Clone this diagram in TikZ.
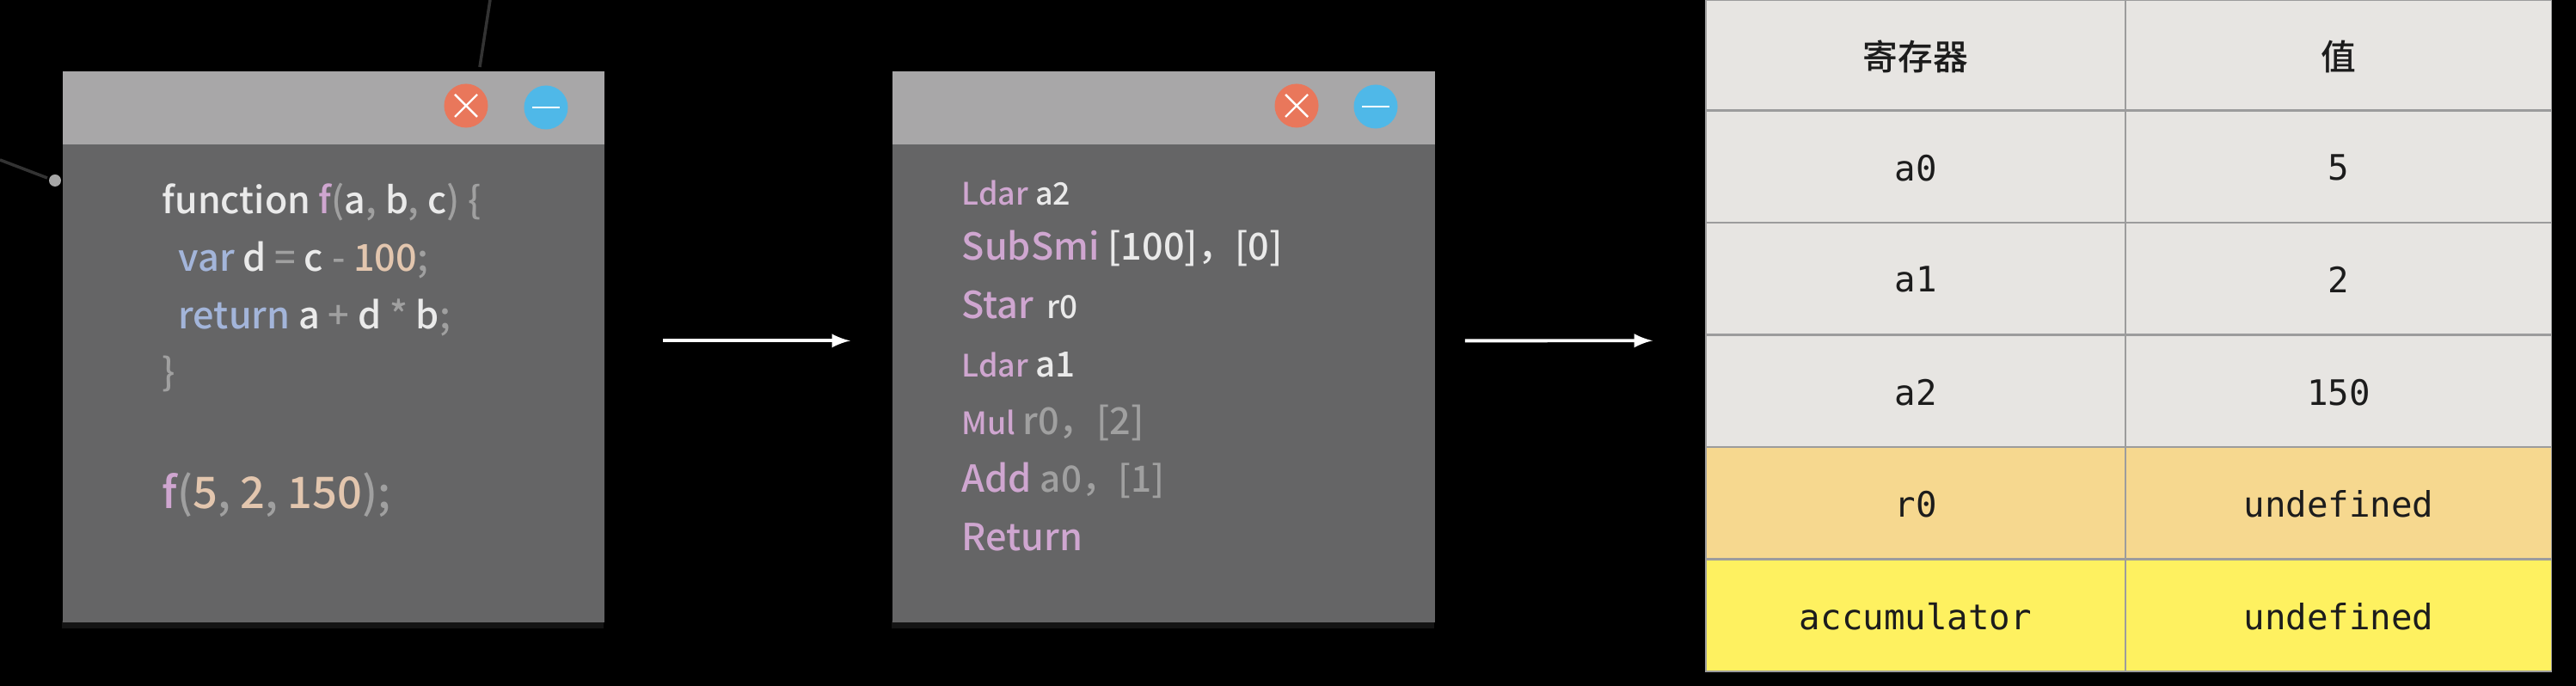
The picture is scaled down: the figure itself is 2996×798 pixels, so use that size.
\documentclass[tikz,border=0pt]{standalone}
\usepackage{fontspec}
\setmainfont{Noto Sans CJK SC}[UprightFont=* Medium]
\setmonofont{DejaVu Sans Mono}
\usepackage{tikz}
\definecolor{winbody}{HTML}{656566}
\definecolor{winbar}{HTML}{A8A7A8}
\definecolor{winshadow}{HTML}{141414}
\definecolor{btnred}{HTML}{E9775B}
\definecolor{btnblue}{HTML}{4FB8E8}
\definecolor{cwhite}{HTML}{EAEAEA}
\definecolor{cgrey}{HTML}{A0A0A0}
\definecolor{cpink}{HTML}{CFA6D0}
\definecolor{cblue}{HTML}{A3B5DA}
\definecolor{ctan}{HTML}{E3C6AE}
\definecolor{cellgrey}{HTML}{E7E5E2}
\definecolor{cellorange}{HTML}{F6D88F}
\definecolor{cellyellow}{HTML}{FEF160}
\definecolor{cellgrid}{HTML}{9C9C9C}
\definecolor{celltext}{HTML}{1C1C1C}
\definecolor{stray}{HTML}{333333}
\newcommand{\wh}[1]  {\textcolor{cwhite}{#1}}
\newcommand{\gr}[1]  {\textcolor{cgrey}{#1}}
\newcommand{\pk}[1]  {\textcolor{cpink}{#1}}
\newcommand{\bl}[1]  {\textcolor{cblue}{#1}}
\newcommand{\tn}[1]  {\textcolor{ctan}{#1}}
\newcommand{\sz}[1]  {\fontsize{#1}{#1}\selectfont}
\tikzset{
  winnode/.style={anchor=north west,inner sep=0,fill=winbody,minimum width=6.3cm,minimum height=6.41cm},
  barnode/.style={anchor=north west,inner sep=0,fill=winbar,minimum width=6.3cm,minimum height=0.85cm},
  btnnode/.style={circle,inner sep=0,minimum size=0.51cm},
  txt/.style={anchor=base west,inner sep=0},
  cell/.style={inner sep=0,draw=cellgrid,line width=0.4pt,text=celltext,font=\ttfamily\sz{11.6},
    minimum height=1.3cm,text depth=0pt},
  cola/.style={cell,minimum width=4.88cm},
  colb/.style={cell,minimum width=4.95cm},
  flow/.style={draw=white,line width=1.1pt,-latex}
}
\begin{document}
\begin{tikzpicture}[x=0.01cm,y=-0.01cm]
     \fill[black] (0,0) rectangle (2996,798);
     \useasboundingbox (0,0) rectangle (2996,798);
     % stray background lines
     \draw[stray,line width=1pt] (570,0) -- (558,78);
     \draw[stray,line width=1pt] (0,186) -- (55,207);
     \fill[gray!70] (64,210) circle (7);
     % left window
     \fill[winshadow] (72,722) rectangle (702,731);
     \node (winA) at (72,82) [winnode] {};
     \node (barA) at (72,82) [barnode] {};
     \node (closeA) at (542,123) [btnnode,fill=btnred] {};
     \node (minA) at (635,125) [btnnode,fill=btnblue] {};
     \draw[white,line width=0.7pt] (529,110) -- (555,136) (529,136) -- (555,110);
     \draw[white,line width=0.8pt] (619,125) -- (651,125);
     \node (srcA) at (188,249) [txt,font=\sz{12.2}] {\wh{function} \pk{f}\gr{(}\wh{a}\gr{,} \wh{b}\gr{,} \wh{c}\gr{)} \gr{\{}};
     \node (srcB) at (207,316) [txt,font=\sz{12.3}] {\bl{var} \wh{d} \gr{=} \wh{c} \gr{-} \tn{100}\gr{;}};
     \node (srcC) at (207,383) [txt,font=\sz{12.3}] {\bl{return} \wh{a} \gr{+} \wh{d} \gr{*} \wh{b}\gr{;}};
     \node (srcD) at (188,449) [txt,font=\sz{12.3}] {\gr{\}}};
     \node (srcE) at (188,592) [txt,font=\sz{14.4}] {\pk{f}\gr{(}\tn{5}\gr{,} \tn{2}\gr{,} \tn{150}\gr{);}};
     % middle window
     \fill[winshadow] (1037,722) rectangle (1668,731);
     \node (winB) at (1037,82) [winnode,minimum width=6.31cm] {};
     \node (barB) at (1037,82) [barnode,minimum width=6.31cm] {};
     \node (closeB) at (1508,123) [btnnode,fill=btnred] {};
     \node (minB) at (1600,124) [btnnode,fill=btnblue] {};
     \draw[white,line width=0.7pt] (1495,110) -- (1521,136) (1495,136) -- (1521,110);
     \draw[white,line width=0.8pt] (1584,124) -- (1616,124);
     \node (opA) at (1118,239) [txt,font=\sz{10.2}] {\pk{Ldar} \wh{a2}};
     \node (opB) at (1118,303) [txt,font=\sz{12.3}] {\pk{SubSmi} \wh{[100]，[0]}};
     \node (opC) at (1118,371) [txt,font=\sz{12.3}] {\pk{Star}\hspace{0.05cm} \wh{\sz{10.5}r0}};
     \node (opD) at (1118,439) [txt,font=\sz{10.2}] {\pk{Ldar} \wh{\sz{11.5}a1}};
     \node (opE) at (1118,506) [txt,font=\sz{10.2}] {\pk{Mul} \gr{\sz{12.3}r0，[2]}};
     \node (opF) at (1118,573) [txt,font=\sz{12.3}] {\pk{Add} \gr{\sz{12}a0，[1]}};
     \node (opG) at (1118,641) [txt,font=\sz{12.3}] {\pk{Return}};
     % register table
     \node (regH) at (2228,64) [cola,fill=cellgrey,minimum height=1.28cm] {\rmfamily 寄存器};
     \node (valH) at (2720,64) [colb,fill=cellgrey,minimum height=1.28cm] {\rmfamily 值};
     \node (regA) at (2228,194) [cola,fill=cellgrey] {\raisebox{-0.02cm}{a0}};
     \node (valA) at (2720,194) [colb,fill=cellgrey] {\raisebox{-0.02cm}{5}};
     \node (regB) at (2228,324) [cola,fill=cellgrey] {\raisebox{-0.02cm}{a1}};
     \node (valB) at (2720,324) [colb,fill=cellgrey] {\raisebox{-0.02cm}{2}};
     \node (regC) at (2228,455) [cola,fill=cellgrey] {\raisebox{-0.02cm}{a2}};
     \node (valC) at (2720,455) [colb,fill=cellgrey] {\raisebox{-0.02cm}{150}};
     \node (regD) at (2228,585) [cola,fill=cellorange] {\raisebox{-0.02cm}{r0}};
     \node (valD) at (2720,585) [colb,fill=cellorange] {\raisebox{-0.02cm}{undefined}};
     \node (regE) at (2228,716) [cola,fill=cellyellow] {\raisebox{-0.02cm}{accumulator}};
     \node (valE) at (2720,716) [colb,fill=cellyellow] {\raisebox{-0.02cm}{undefined}};
     % arrows between the stages
     \draw[flow,shorten <=0.67cm,shorten >=0.48cm] ([yshift=0.07cm]winA.east) -- ([yshift=0.07cm]winB.west);
     \draw[flow,shorten <=0.34cm,shorten >=0.61cm] ([yshift=0.07cm]winB.east) -- ([yshift=-0.065cm]regB.south west);
\end{tikzpicture}
\end{document}
